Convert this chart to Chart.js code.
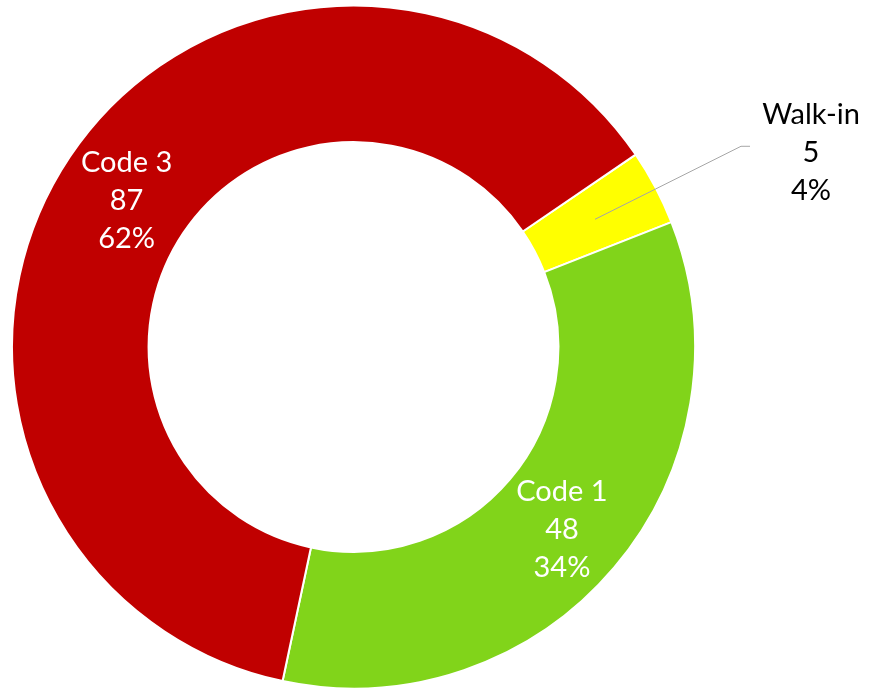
<!DOCTYPE html>
<html>
<head>
<meta charset="utf-8">
<script src="https://cdn.jsdelivr.net/npm/chart.js@4/dist/chart.umd.min.js"></script>
<style>
  html, body { margin: 0; padding: 0; background: #ffffff; }
  #wrap { width: 876px; height: 694px; }
</style>
</head>
<body>
<div id="wrap"><canvas id="c" width="876" height="694"></canvas></div>
<script>
// Arrival mode counts
const categories = ['Walk-in', 'Code 1', 'Code 3'];
const counts = [5, 48, 87];
const sliceColors = ['#FFFF00', '#81D41A', '#C00000'];
const labelColors = ['#000000', '#FFFFFF', '#FFFFFF'];

const total = counts.reduce((a, b) => a + b, 0);

// Draws "name / value / percent" on each slice; slices listed in
// calloutIndex get their text outside the ring with a leader line.
const sliceLabels = {
  id: 'sliceLabels',
  afterDatasetsDraw(chart, args, opts) {
    const ctx = chart.ctx;
    const meta = chart.getDatasetMeta(0);
    const lineH = opts.lineHeight;
    ctx.save();
    ctx.font = opts.font;
    ctx.textAlign = 'center';
    ctx.textBaseline = 'middle';
    meta.data.forEach((arc, i) => {
      const pos = arc.tooltipPosition();
      const lines = [
        categories[i],
        String(counts[i]),
        Math.round(counts[i] / total * 100) + '%'
      ];
      let cx = pos.x, cy = pos.y + opts.yShift;
      if (opts.calloutIndex.includes(i)) {
        const ex = pos.x + opts.callout.dx;
        const ey = pos.y + opts.callout.dy;
        ctx.strokeStyle = '#A6A6A6';
        ctx.lineWidth = 1;
        ctx.beginPath();
        ctx.moveTo(pos.x, pos.y);
        ctx.lineTo(ex, ey);
        ctx.lineTo(ex + opts.callout.tail, ey);
        ctx.stroke();
        cx = ex + opts.callout.textDx;
        cy = ey + opts.callout.textDy;
      }
      ctx.fillStyle = labelColors[i];
      lines.forEach((t, k) => {
        ctx.fillText(t, cx, cy + (k - 1) * lineH);
      });
    });
    ctx.restore();
  }
};

new Chart(document.getElementById('c'), {
  type: 'doughnut',
  data: {
    labels: categories,
    datasets: [{
      data: counts,
      backgroundColor: sliceColors,
      borderColor: '#FFFFFF',
      borderWidth: 2,
      hoverOffset: 0
    }]
  },
  options: {
    responsive: false,
    animation: false,
    rotation: 55.7,
    cutout: '60%',
    layout: { padding: { left: 11, right: 180, top: 4, bottom: 4 } },
    plugins: {
      legend: { display: false },
      tooltip: { enabled: false },
      sliceLabels: {
        font: '29px Lato, "Open Sans", sans-serif',
        lineHeight: 38,
        yShift: 6,
        calloutIndex: [0],
        callout: { dx: 146, dy: -73, tail: 9, textDx: 70, textDy: 6 }
      }
    }
  },
  plugins: [sliceLabels]
});
</script>
</body>
</html>
